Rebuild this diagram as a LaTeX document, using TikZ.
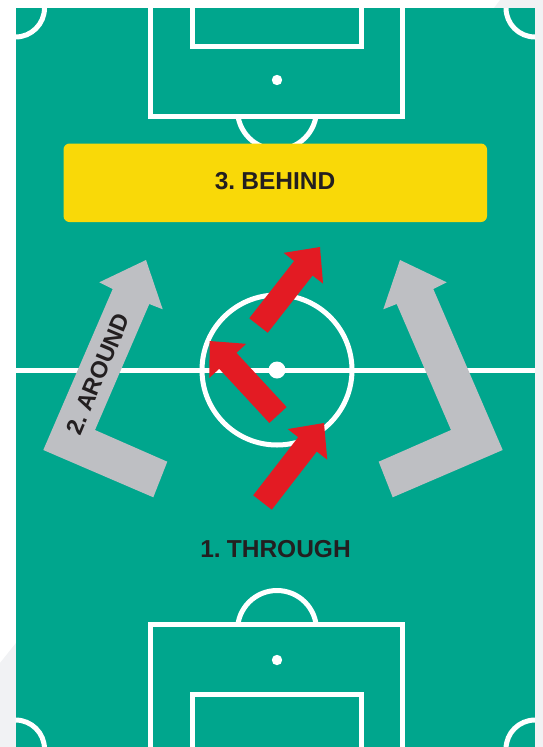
\documentclass[tikz,border=0pt]{standalone}
\usepackage{fontspec}
\setmainfont{Liberation Sans}
\usetikzlibrary{calc}
\definecolor{pitch}{HTML}{00A68D}
\definecolor{bgrey}{HTML}{F1F2F4}
\definecolor{boxyellow}{HTML}{F9D908}
\definecolor{arrred}{HTML}{E31B23}
\definecolor{arrgrey}{HTML}{BEBFC3}
\definecolor{ink}{HTML}{231F20}
\newcommand\redarrow[3]{%
  \coordinate (#1t) at #2;
  \coordinate (#1p) at #3;
  \coordinate (#1b) at ($(#1p)!27pt!(#1t)$);
  \fill[arrred] ($(#1t)!11.75pt!90:(#1p)$) -- ($(#1b)!11.75pt!90:(#1p)$)
    -- ($(#1b)!25pt!90:(#1p)$) -- (#1p) -- ($(#1b)!25pt!-90:(#1p)$)
    -- ($(#1b)!11.75pt!-90:(#1p)$) -- ($(#1t)!11.75pt!-90:(#1p)$) -- cycle;
}
\begin{document}
\begin{tikzpicture}[x=1pt,y=-1pt,
  pline/.style={draw=white, line width=5pt},
  label/.style={font=\bfseries\fontsize{24.5}{28}\selectfont, text=ink, inner sep=0pt}]
\useasboundingbox (0,0) rectangle (543,747);
\fill[white] (0,0) rectangle (543,747);
\fill[bgrey] (494,8) -- (500,0) -- (543,0) -- (543,747) -- (520,747) -- cycle;
\fill[bgrey] (0,663) -- (16,643) -- (16,747) -- (0,747) -- cycle;
\fill[pitch] (15.5,8) rectangle (535,747);
\begin{scope}
  \clip (15.5,8) rectangle (535,747);
  % corner arcs
  \draw[pline] (15.5,8) circle[radius=29];
  \draw[pline] (535,8) circle[radius=29];
  \draw[pline] (15.5,749) circle[radius=29];
  \draw[pline] (535,749) circle[radius=29];
  % top penalty area
  \draw[pline] (150.75,0) -- (150.75,116) -- (402.25,116) -- (402.25,0);
  \draw[pline] (192.75,0) -- (192.75,46) -- (361.25,46) -- (361.25,0);
  \fill[white] (277,80) circle[radius=5.2];
  \begin{scope}
    \clip (0,116) rectangle (543,200);
    \draw[pline] (277,110) circle[radius=39.5];
  \end{scope}
  % bottom penalty area
  \draw[pline] (150.75,760) -- (150.75,624) -- (402.25,624) -- (402.25,760);
  \draw[pline] (192.75,760) -- (192.75,694) -- (361.25,694) -- (361.25,760);
  \fill[white] (277,660) circle[radius=5.2];
  \begin{scope}
    \clip (0,540) rectangle (543,624);
    \draw[pline] (277,630) circle[radius=39.5];
  \end{scope}
  % halfway line and centre circle
  \draw[pline] (15.5,370) -- (535,370);
  \draw[pline] (277,370) circle[radius=75];
  \fill[white] (277,370) circle[radius=8.5];
\end{scope}
% yellow box
\fill[boxyellow, rounded corners=6pt] (63.5,143.5) rectangle (487,222);
\node[label] (behind) at (275,181.5) {3.\hspace{0.25em}BEHIND};
% grey arrows
\fill[arrgrey] (146,260) -- (162.7,309.3) -- (149.3,304) -- (95,430) -- (167.3,461.7)
  -- (153.3,497.3) -- (43.3,450) -- (112.7,289) -- (99.3,282.3) -- cycle;
\fill[arrgrey] (400,260) -- (383.3,309.3) -- (396.7,304) -- (451,430) -- (378.7,461.7)
  -- (392.7,497.3) -- (502.7,450) -- (433.3,289) -- (446.7,282.3) -- cycle;
\node[label, font=\bfseries\fontsize{23.5}{26}\selectfont, rotate=67] (around) at (98,374) {2.\hspace{0.25em}AROUND};
% red arrows
\redarrow{ra}{(258.5,325.5)}{(320,247)}
\redarrow{rb}{(278,415)}{(209.5,341)}
\redarrow{rc}{(262.5,502.5)}{(324,423)}
\node[label] (through) at (275.5,548.7) {1.\hspace{0.25em}THROUGH};
\end{tikzpicture}
\end{document}
